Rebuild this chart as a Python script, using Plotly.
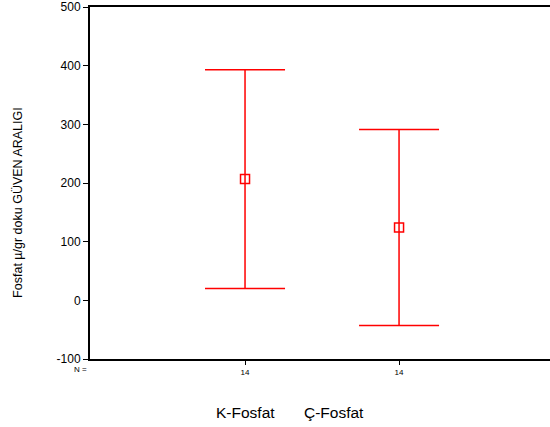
import plotly.graph_objects as go

groups = ["K-Fosfat", "Ç-Fosfat"]
n_labels = ["14", "14"]
means = [207, 124]
upper = [393, 291]
lower = [20, -43]
y_ticks = [-100, 0, 100, 200, 300, 400, 500]
y_ticktext = ["-100", "0", "100", "200", "300", "400", "500"]

W, H = 550, 427
L, R, T, B = 90, 0, 5, 68
pw, ph = W - L - R, H - T - B

def px_x(p):
    return (p - L) / pw

def px_y(p):
    return (H - B - p) / ph

xpos = [1, 2]
fig = go.Figure()
fig.add_trace(go.Scatter(
    x=xpos, y=means, mode="markers",
    marker=dict(symbol="square-open", size=9, color="red", line=dict(width=1.5, color="red")),
    error_y=dict(type="data", symmetric=False,
                 array=[u - m for u, m in zip(upper, means)],
                 arrayminus=[m - l for m, l in zip(means, lower)],
                 color="red", thickness=1.5, width=40),
    showlegend=False, hoverinfo="skip"))

font = "Liberation Sans, Arial, sans-serif"
fig.update_layout(
    width=W, height=H, margin=dict(l=L, r=R, t=T, b=B),
    paper_bgcolor="white", plot_bgcolor="white",
    font=dict(family=font, color="black"),
    xaxis=dict(range=[-0.0065, 2.98], tickvals=xpos, ticktext=n_labels, ticks="outside", ticklen=4,
               tickwidth=1, tickcolor="black", tickfont=dict(size=8, color="black"), showgrid=False,
               zeroline=False, showline=True, linecolor="black", linewidth=2, mirror=True),
    yaxis=dict(range=[-100, 500], tickvals=y_ticks, ticktext=y_ticktext, ticks="outside", ticklen=5,
               tickwidth=1, tickcolor="black", tickfont=dict(size=12, color="black"), showgrid=False,
               zeroline=False, showline=True, linecolor="black", linewidth=2, mirror=False,
               ticklabeloverflow="allow"),
)

annotations = [
    dict(text="N =", x=px_x(80), y=px_y(370), xref="paper", yref="paper",
         showarrow=False, font=dict(size=8, color="black"), xanchor="center", yanchor="middle"),
    dict(text="Fosfat µ/gr doku GÜVEN ARALIGI", x=px_x(18), y=px_y(202), xref="paper", yref="paper",
         showarrow=False, textangle=-90, font=dict(size=12.5), xanchor="center", yanchor="middle"),
]
for g, cx in zip(groups, [245, 334]):
    annotations.append(dict(text=g, x=px_x(cx), y=px_y(413), xref="paper", yref="paper",
                            showarrow=False, font=dict(size=15.5), xanchor="center", yanchor="middle"))
fig.update_layout(annotations=annotations)

fig.write_html("out.html", config={"displayModeBar": False})
with open("out.html", encoding="utf-8") as f:
    html = f.read()
html = html.replace("<head>", "<head><style>html,body{margin:0;padding:0;overflow:hidden;}</style>", 1)
with open("out.html", "w", encoding="utf-8") as f:
    f.write(html)
